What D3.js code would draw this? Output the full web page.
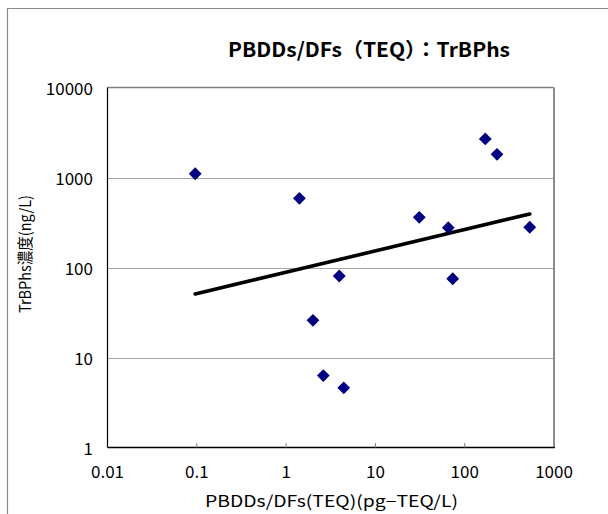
<!DOCTYPE html>
<html><head><meta charset="utf-8">
<script src="https://cdn.jsdelivr.net/npm/d3@7"></script>
<style>html,body{margin:0;padding:0;background:#fff;}svg{display:block;}</style>
</head><body>
<svg id="c" width="608" height="514"></svg>
<script>
const title = "PBDDs/DFs（TEQ）：TrBPhs";
const xTitle = "PBDDs/DFs(TEQ)(pg−TEQ/L)";
const yTitle = "TrBPhs濃度(ng/L)";
const xTicks = [0.01, 0.1, 1, 10, 100, 1000];
const xTickLabels = ["0.01", "0.1", "1", "10", "100", "1000"];
const yTicks = [1, 10, 100, 1000, 10000];
const yTickLabels = ["1", "10", "100", "1000", "10000"];
const pbdd = [0.096, 1.41, 3.94, 2.0, 2.61, 4.42, 170, 230, 31, 65.5, 73.4, 535];
const trbph = [1100, 587, 80.5, 25.9, 6.3, 4.6, 2680, 1810, 361, 277, 75, 280];
const trendX = [0.096, 535];
const trendY = [50.8, 393];

const svg = d3.select("#c");
const font = "'Noto Sans CJK JP', 'Liberation Sans', sans-serif";
const L = 107.5, R = 554, T = 87.5, B = 447.5;
const x = d3.scaleLog().domain([0.01, 1000]).range([L, R]);
const y = d3.scaleLog().domain([1, 10000]).range([B, T]);

// outer frame (top and left edges visible)
svg.append("line").attr("x1", 7.5).attr("x2", 7.5).attr("y1", 8.5).attr("y2", 514).attr("stroke", "#8a8a8a").attr("stroke-width", 1.2);
svg.append("line").attr("x1", 7).attr("x2", 608).attr("y1", 8.5).attr("y2", 8.5).attr("stroke", "#8a8a8a").attr("stroke-width", 1.2);

// gridlines
svg.append("g").selectAll("line").data(yTicks.slice(1, -1)).join("line")
  .attr("x1", L).attr("x2", R).attr("y1", d => Math.round(y(d)) + 0.5).attr("y2", d => Math.round(y(d)) + 0.5)
  .attr("stroke", "#a6a6a6").attr("stroke-width", 1);

// plot border
svg.append("line").attr("x1", L).attr("x2", R).attr("y1", T).attr("y2", T).attr("stroke", "#808080").attr("stroke-width", 1.5);
svg.append("line").attr("x1", R).attr("x2", R).attr("y1", T).attr("y2", B).attr("stroke", "#8c8c8c").attr("stroke-width", 2);
svg.append("line").attr("x1", L).attr("x2", L).attr("y1", T).attr("y2", B).attr("stroke", "#000").attr("stroke-width", 1.2);
svg.append("line").attr("x1", L).attr("x2", R + 1).attr("y1", B).attr("y2", B).attr("stroke", "#000").attr("stroke-width", 1.5);

// x ticks (inside)
svg.append("g").selectAll("line").data(xTicks.slice(1, -1)).join("line")
  .attr("x1", d => x(d)).attr("x2", d => x(d)).attr("y1", B).attr("y2", B - 4.5)
  .attr("stroke", "#808080").attr("stroke-width", 1);

// tick labels
svg.append("g").selectAll("text").data(xTicks).join("text")
  .attr("x", d => x(d)).attr("y", 478).attr("text-anchor", "middle")
  .attr("font-family", font).attr("font-size", 17).attr("fill", "#000")
  .text((d, i) => xTickLabels[i]);
svg.append("g").selectAll("text").data(yTicks).join("text")
  .attr("x", 93).attr("y", d => y(d) + 7).attr("text-anchor", "end")
  .attr("font-family", font).attr("font-size", 17).attr("fill", "#000")
  .text((d, i) => yTickLabels[i]);

// trend line
svg.append("line")
  .attr("x1", x(trendX[0])).attr("y1", y(trendY[0]))
  .attr("x2", x(trendX[1])).attr("y2", y(trendY[1]))
  .attr("stroke", "#000").attr("stroke-width", 3.6).attr("stroke-linecap", "round");

// points
svg.append("g").selectAll("path").data(pbdd).join("path")
  .attr("transform", (d, i) => `translate(${x(d)},${y(trbph[i])}) rotate(45)`)
  .attr("d", d3.symbol().type(d3.symbolSquare).size(82))
  .attr("fill", "#000080");

// titles
svg.append("text").attr("x", 369).attr("y", 57).attr("text-anchor", "middle")
  .attr("font-family", font).attr("font-weight", "bold").attr("font-size", 20)
  .attr("textLength", 282).attr("lengthAdjust", "spacingAndGlyphs").text(title);
svg.append("text").attr("x", 331.5).attr("y", 507).attr("text-anchor", "middle")
  .attr("font-family", font).attr("font-size", 16)
  .attr("textLength", 253).attr("lengthAdjust", "spacingAndGlyphs").text(xTitle);
svg.append("text").attr("transform", "translate(31,254) rotate(-90)").attr("text-anchor", "middle")
  .attr("font-family", font).attr("font-size", 15.5)
  .attr("textLength", 118).attr("lengthAdjust", "spacingAndGlyphs").text(yTitle);
</script>
</body></html>
